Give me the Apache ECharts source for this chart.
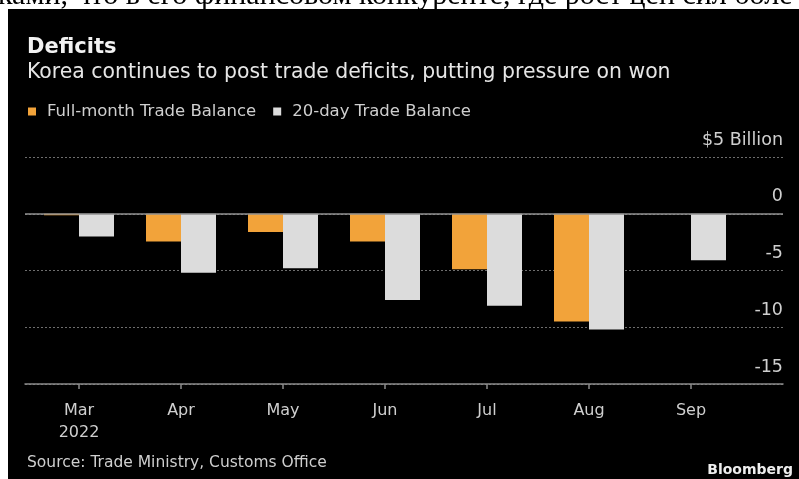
<!DOCTYPE html>
<html>
<head>
<meta charset="utf-8">
<script src="https://cdn.jsdelivr.net/npm/echarts@6/dist/echarts.min.js"></script>
<style>
  html, body { margin: 0; padding: 0; background: #fff; }
  #chart { width: 799px; height: 479px; }
</style>
</head>
<body>
<div id="chart"></div>
<script>
// Korea trade balance, US$ billion
const months = ['Mar\n2022', 'Apr', 'May', 'Jun', 'Jul', 'Aug', 'Sep'];
const fullMonth = [-0.14, -2.45, -1.6, -2.45, -4.9, -9.5, null];
const twentyDay = [-2.0, -5.2, -4.8, -7.6, -8.1, -10.2, -4.1];
const yTicks = { min: -15, max: 5, step: 5 };
const unitLabel = '$5 Billion';

const ORANGE = '#f2a33a';
const LIGHT = '#dcdcdc';
const TEXT = '#cfcfcf';
const FONT = '"DejaVu Sans", sans-serif';

const chart = echarts.init(document.getElementById('chart'), null, { renderer: 'canvas' });

chart.setOption({
  backgroundColor: '#000',
  animation: false,
  textStyle: { fontFamily: FONT },
  graphic: [
    // page strip above the panel, with the tail end of the article text
    { type: 'rect', shape: { x: 0, y: 0, width: 799, height: 9 }, style: { fill: '#fff' }, silent: true },
    { type: 'rect', shape: { x: 0, y: 0, width: 8, height: 479 }, style: { fill: '#fff' }, silent: true },
    {
      type: 'text', x: -2, y: 11, silent: true,
      style: {
        text: 'ками, что в его финансовом конкуренте, где рост цен сил боле',
        font: '30px "Liberation Serif", serif', fill: '#000', verticalAlign: 'bottom'
      }
    },
    // header
    { type: 'text', left: 27, top: 37, style: { text: 'Deficits', font: 'bold 21px ' + FONT, fill: '#f2f2f2' } },
    { type: 'text', left: 27, top: 63, style: { text: 'Korea continues to post trade deficits, putting pressure on won', font: '20.4px ' + FONT, fill: '#e6e6e6' } },
    // footer
    { type: 'text', left: 27, top: 455, style: { text: 'Source: Trade Ministry, Customs Office', font: '15.5px ' + FONT, fill: TEXT } },
    { type: 'text', right: 6, top: 463, style: { text: 'Bloomberg', font: 'bold 14px ' + FONT, fill: '#eeeeee' } }
  ],
  legend: {
    left: 28, top: 103, padding: 0,
    icon: 'rect', itemWidth: 8, itemHeight: 8, itemGap: 17,
    textStyle: { color: TEXT, fontSize: 16.5, fontFamily: FONT, padding: [0, 0, 0, 6] },
    data: ['Full-month Trade Balance', '20-day Trade Balance']
  },
  grid: [
    // frame grid: gridlines and axis line across the full width
    { left: 25, right: 16, top: 157, bottom: 95 },
    // bar grid
    { left: 28, right: 57, top: 157, bottom: 95 }
  ],
  xAxis: [
    {
      gridIndex: 0, type: 'value', min: 0, max: 1,
      axisLine: { show: true, onZero: false, lineStyle: { color: '#8a8a8a', width: 1.5 } },
      axisTick: { show: false }, axisLabel: { show: false }, splitLine: { show: false }
    },
    {
      gridIndex: 1, type: 'category', data: months,
      axisLine: { show: false, onZero: false },
      axisTick: { show: true, alignWithLabel: true, length: 5, lineStyle: { color: '#8a8a8a', width: 1.5 } },
      axisLabel: { color: TEXT, fontSize: 16, lineHeight: 22, margin: 16, fontFamily: FONT }
    }
  ],
  yAxis: [
    {
      gridIndex: 0, type: 'value', position: 'right',
      min: yTicks.min, max: yTicks.max, interval: yTicks.step,
      axisLine: { show: false }, axisTick: { show: false },
      splitLine: { show: true, lineStyle: { color: '#6e6e6e', type: [2, 2], width: 1 } },
      axisLabel: {
        inside: true, margin: 0, align: 'right', verticalAlign: 'bottom',
        padding: [0, 0, 8, 0], color: TEXT, fontSize: 17.5, fontFamily: FONT,
        formatter: v => (v === yTicks.max ? unitLabel : String(v))
      }
    },
    {
      gridIndex: 1, type: 'value', min: yTicks.min, max: yTicks.max, interval: yTicks.step,
      show: false
    }
  ],
  series: [
    {
      // zero baseline
      type: 'line', xAxisIndex: 0, yAxisIndex: 0, data: [], silent: true,
      markLine: {
        silent: true, symbol: 'none', label: { show: false },
        lineStyle: { color: '#909090', type: 'solid', width: 1.5 },
        data: [{ yAxis: 0 }]
      }
    },
    {
      name: 'Full-month Trade Balance', type: 'bar', xAxisIndex: 1, yAxisIndex: 1,
      data: fullMonth, barWidth: 35, barGap: '0%',
      itemStyle: { color: ORANGE }
    },
    {
      name: '20-day Trade Balance', type: 'bar', xAxisIndex: 1, yAxisIndex: 1,
      data: twentyDay, barWidth: 35, barGap: '0%',
      itemStyle: { color: LIGHT }
    }
  ]
});
</script>
</body>
</html>
